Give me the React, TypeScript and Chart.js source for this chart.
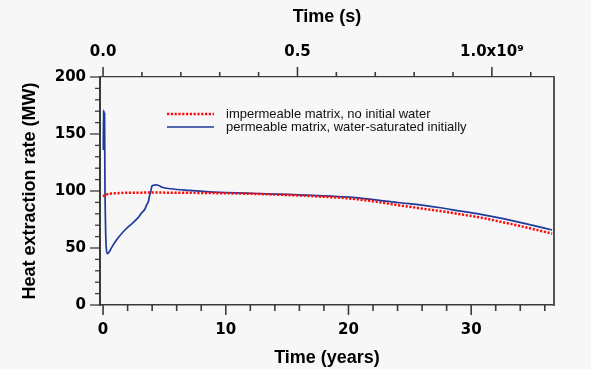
import React, { useEffect, useRef } from 'react';
import { Chart, registerables } from 'chart.js';

Chart.register(...registerables);

// ---------- data ----------
const SEC_PER_YEAR = 3.15576e7;
const X_MIN = -0.25;
const X_MAX = 36.75;
const Y_MIN = 0;
const Y_MAX = 200;

const seriesLabels = [
  'impermeable matrix, no initial water',
  'permeable matrix, water-saturated initially',
];

const impermeableYears = [0, 0.1, 0.3, 0.5, 1, 1.5, 2.5, 4, 6, 8, 10, 12.5, 15, 17.5, 20, 22, 24.2, 26, 27.5, 29, 30.8, 32.5, 34.5, 36.6];
const impermeableMW = [95, 96, 97, 97.5, 98, 98.3, 98.5, 98.6, 98.5, 98.3, 98, 97.4, 96.5, 95.2, 93.5, 91, 87.3, 84.6, 82.4, 79.8, 76.6, 72.8, 68, 62.6];

const permeableYears = [0.02, 0.04, 0.06, 0.08, 0.1, 0.12, 0.15, 0.2, 0.26, 0.35, 0.45, 0.6, 0.84, 1.2, 1.66, 2.0, 2.47, 2.8, 3.16, 3.4, 3.56, 3.7, 3.78, 3.9, 3.97, 4.1, 4.24, 4.5, 4.8, 5.5, 7, 8.7, 10, 12.5, 15, 17.5, 20, 22, 24.2, 26, 27.5, 29, 30.8, 32.5, 34.5, 36.6];
const permeableMW = [136, 171, 137, 170, 140, 168, 110, 70, 50, 45, 45.8, 48.5, 53, 58.5, 64.5, 68, 72.4, 76, 81, 84, 88, 91, 95.5, 100, 104, 105, 105.4, 105, 103.3, 102, 100.5, 99.2, 98.6, 97.8, 97, 96, 94.6, 92.5, 89.7, 87.6, 85.3, 82.6, 79.5, 76, 71.2, 65.8];

const xMajorTicks = [0, 10, 20, 30];
const xMinorTicks = [2, 4, 6, 8, 12, 14, 16, 18, 22, 24, 26, 28, 32, 34, 36];
const yMajorTicks = [0, 50, 100, 150, 200];
const yMinorTicks = [10, 20, 30, 40, 60, 70, 80, 90, 110, 120, 130, 140, 160, 170, 180, 190];
const topMajorTicks = [0, 0.5e9, 1.0e9];
const topMajorLabels = ['0.0', '0.5', '1.0x10\u2079'];
const topMinorTicks = [0.1e9, 0.2e9, 0.3e9, 0.4e9, 0.6e9, 0.7e9, 0.8e9, 0.9e9, 1.1e9];

// ---------- styles ----------
const BG = '#f7f7f7';
const AXIS = '#3a3a3a';
const RED = '#ff0a0a';
const BLUE = '#1f3a9c';
const tickFont = { family: 'DejaVu Sans', weight: 'bold' as const, size: 15 };
const titleFont = { family: 'Liberation Sans', weight: 'bold' as const, size: 18 };

const decorPlugin = {
  id: 'decor',
  afterDraw(chart: any) {
    const ctx = chart.ctx as CanvasRenderingContext2D;
    const area = chart.chartArea;
    const sx = chart.scales.x;
    const sy = chart.scales.y;
    const st = chart.scales.x2;
    ctx.save();
    ctx.strokeStyle = AXIS;
    const seg = (x1: number, y1: number, x2: number, y2: number, w: number) => {
      ctx.lineWidth = w;
      ctx.beginPath();
      ctx.moveTo(x1, y1);
      ctx.lineTo(x2, y2);
      ctx.stroke();
    };
    // bottom ticks (outward, down)
    xMajorTicks.forEach((v) => { const p = sx.getPixelForValue(v); seg(p, area.bottom, p, area.bottom + 10, 1.6); });
    xMinorTicks.forEach((v) => { const p = sx.getPixelForValue(v); seg(p, area.bottom, p, area.bottom + 6, 1.6); });
    // left ticks (outward, left)
    yMajorTicks.forEach((v) => { const p = sy.getPixelForValue(v); seg(area.left, p, area.left - 10, p, 1.3); });
    yMinorTicks.forEach((v) => { const p = sy.getPixelForValue(v); seg(area.left, p, area.left - 5, p, 1.3); });
    // top ticks (outward, up)
    topMajorTicks.forEach((v) => { const p = st.getPixelForValue(v); seg(p, area.top, p, area.top - 10, 1.6); });
    topMinorTicks.forEach((v) => { const p = st.getPixelForValue(v); seg(p, area.top, p, area.top - 5, 1.6); });

    // legend
    const lx = area.left + 67;
    const ly1 = area.top + 37;
    const ly2 = area.top + 50;
    ctx.lineCap = 'butt';
    ctx.strokeStyle = RED;
    ctx.lineWidth = 2.5;
    ctx.setLineDash([2.2, 1.6]);
    ctx.beginPath(); ctx.moveTo(lx, ly1); ctx.lineTo(lx + 47, ly1); ctx.stroke();
    ctx.setLineDash([]);
    ctx.strokeStyle = BLUE;
    ctx.lineWidth = 1.7;
    ctx.beginPath(); ctx.moveTo(lx, ly2); ctx.lineTo(lx + 47, ly2); ctx.stroke();
    ctx.fillStyle = '#111';
    ctx.font = '13px "Liberation Sans"';
    ctx.textBaseline = 'middle';
    ctx.textAlign = 'left';
    ctx.fillText(seriesLabels[0], lx + 59, ly1);
    ctx.fillText(seriesLabels[1], lx + 59, ly2);
    ctx.restore();
  },
};

export default function App() {
  const canvasRef = useRef<HTMLCanvasElement | null>(null);

  useEffect(() => {
    if (!canvasRef.current) return;
    const toPts = (xs: number[], ys: number[]) => xs.map((x, i) => ({ x, y: ys[i] }));
    const chart = new Chart(canvasRef.current, {
      type: 'line',
      data: {
        datasets: [
          {
            label: seriesLabels[0],
            data: toPts(impermeableYears, impermeableMW),
            borderColor: RED,
            borderWidth: 2.5,
            borderDash: [2.2, 1.6],
            pointRadius: 0,
            cubicInterpolationMode: 'monotone',
            xAxisID: 'x',
            yAxisID: 'y',
          },
          {
            label: seriesLabels[1],
            data: toPts(permeableYears, permeableMW),
            borderColor: BLUE,
            borderWidth: 1.7,
            pointRadius: 0,
            cubicInterpolationMode: 'monotone',
            xAxisID: 'x',
            yAxisID: 'y',
          },
        ],
      },
      options: {
        animation: false,
        responsive: true,
        maintainAspectRatio: false,
        layout: { padding: 0 },
        plugins: { legend: { display: false }, tooltip: { enabled: false }, title: { display: false } },
        scales: {
          x: {
            type: 'linear',
            position: 'bottom',
            min: X_MIN,
            max: X_MAX,
            afterBuildTicks: (s: any) => { s.ticks = xMajorTicks.map((v) => ({ value: v })); },
            afterFit: (s: any) => { s.height = 64; },
            ticks: { padding: 16, font: tickFont, color: '#000', maxRotation: 0, autoSkip: false, callback: (v: any) => String(v) },
            grid: { display: false, drawTicks: false },
            border: { display: true, color: AXIS, width: 1.5 },
            title: { display: true, text: 'Time (years)', font: titleFont, color: '#000', padding: { top: 0, bottom: 0 } },
          },
          x2: {
            type: 'linear',
            position: 'top',
            min: X_MIN * SEC_PER_YEAR,
            max: X_MAX * SEC_PER_YEAR,
            afterBuildTicks: (s: any) => { s.ticks = topMajorTicks.map((v) => ({ value: v })); },
            afterFit: (s: any) => { s.height = 77; },
            ticks: {
              padding: 16, font: tickFont, color: '#000', maxRotation: 0, autoSkip: false,
              callback: (v: any) => { const i = topMajorTicks.indexOf(v); return i >= 0 ? topMajorLabels[i] : ''; },
            },
            grid: { display: false, drawTicks: false },
            border: { display: true, color: AXIS, width: 1.3 },
            title: { display: true, text: 'Time (s)', font: titleFont, color: '#000', padding: { top: 6, bottom: 0 } },
          },
          y: {
            type: 'linear',
            position: 'left',
            min: Y_MIN,
            max: Y_MAX,
            afterBuildTicks: (s: any) => { s.ticks = yMajorTicks.map((v) => ({ value: v })); },
            afterFit: (s: any) => { s.width = 100; },
            ticks: { padding: 14, font: tickFont, color: '#000', callback: (v: any) => String(v) },
            grid: { display: false, drawTicks: false },
            border: { display: true, color: AXIS, width: 2 },
            title: { display: true, text: 'Heat extraction rate (MW)', font: titleFont, color: '#000', padding: { top: 19, bottom: 0 } },
          },
          y2: {
            type: 'linear',
            position: 'right',
            min: Y_MIN,
            max: Y_MAX,
            afterFit: (s: any) => { s.width = 37; },
            ticks: { display: false },
            grid: { display: false, drawTicks: false },
            border: { display: true, color: '#555', width: 2 },
          },
        },
      },
      plugins: [decorPlugin],
    } as any);
    return () => chart.destroy();
  }, []);

  return (
    <div style={{ position: 'fixed', left: 0, top: 0, width: 591, height: 369, background: BG }}>
      <canvas ref={canvasRef} />
    </div>
  );
}
